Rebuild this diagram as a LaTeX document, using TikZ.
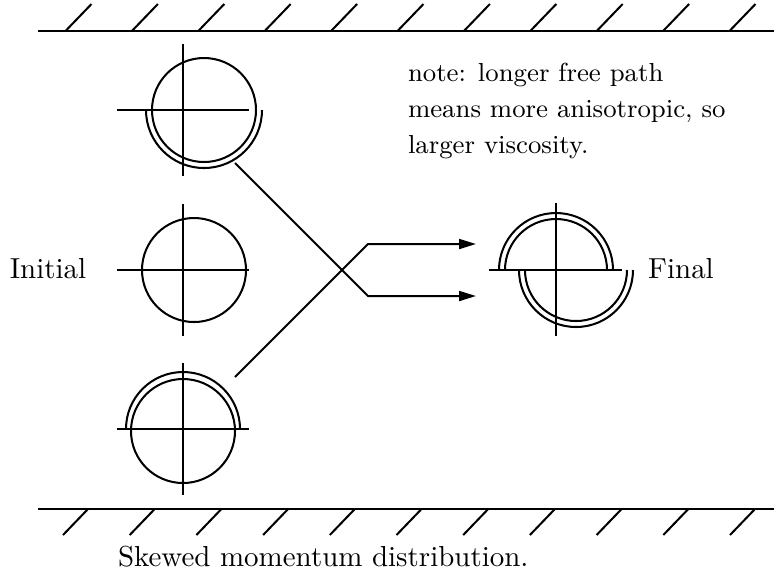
\documentclass[tikz,border=0pt]{standalone}
\usepackage{tikz}
\usetikzlibrary{arrows.meta, positioning, calc}

\begin{document}
\begin{tikzpicture}[
  x=0.3454pt, y=0.3454pt,
  line width=0.7pt,
  wall/.style={draw=black},
  hatch/.style={draw=black},
  cross/.style={draw=black},
  dist/.style={draw=black},
  flow/.style={-{Triangle[length=5.8pt, width=3.4pt]}, draw=black},
  lbl/.style={inner sep=0pt, font=\normalsize}
]
\useasboundingbox (0,0) rectangle (774,-571);

% ====================================================== walls
\draw[wall] (38,-31) -- (774,-31);
\foreach \i in {0,...,10}
  \draw[hatch] (65.5+66.4*\i,-31) -- (91.5+66.4*\i,-4);
\draw[wall] (38,-509) -- (774,-509);
\foreach \i in {0,...,10}
  \draw[hatch] (88+66.7*\i,-509) -- (63+66.7*\i,-535);

% ====================================================== initial distributions
% upper layer: shifted, doubled lower half
\draw[cross] (183,-44) -- (183,-176);
\draw[cross] (117,-110) -- (249,-110);
\draw[dist] (204,-110) circle (52);
\draw[dist] (146,-110) arc (180:360:58);

% middle layer
\draw[cross] (183,-204) -- (183,-336);
\draw[cross] (117,-270) -- (249,-270);
\draw[dist] (194,-270) circle (52);

% lower layer: doubled upper half
\draw[cross] (183,-363) -- (183,-495);
\draw[cross] (117,-429) -- (249,-429);
\draw[dist] (183,-431) circle (52);
\draw[dist] (240,-429) arc (0:180:57);

% ====================================================== final distribution
\draw[cross] (556,-203) -- (556,-336);
\draw[cross] (489,-270) -- (622,-270);
\draw[dist] (505,-270) arc (180:0:51);
\draw[dist] (499,-270) arc (180:0:57);
\draw[dist] (525,-270) arc (180:360:51);
\draw[dist] (519,-270) arc (180:360:57);

% ====================================================== exchange
\coordinate (topout)  at (235,-163);
\coordinate (topbend) at (368,-296);
\coordinate (topend)  at (476,-296);
\coordinate (botout)  at (235,-377);
\coordinate (botbend) at (368,-244);
\coordinate (botend)  at (476,-244);
\draw[flow] (topout) -- (topbend) -- (topend);
\draw[flow] (botout) -- (botbend) -- (botend);

% ====================================================== labels
\node[lbl, anchor=base] (init) at (48,-278) {Initial};
\node[lbl, anchor=base] (final) at (681,-278) {Final};
\node[lbl, font={\small\baselineskip=12.4pt}, anchor=north west, align=left]
  (note) at (407,-62)
  {note: longer free path\\ means more anisotropic, so\\ larger viscosity.};
\node[lbl, anchor=base west] (caption) at (117,-566)
  {Skewed momentum distribution.};

\end{tikzpicture}
\end{document}
